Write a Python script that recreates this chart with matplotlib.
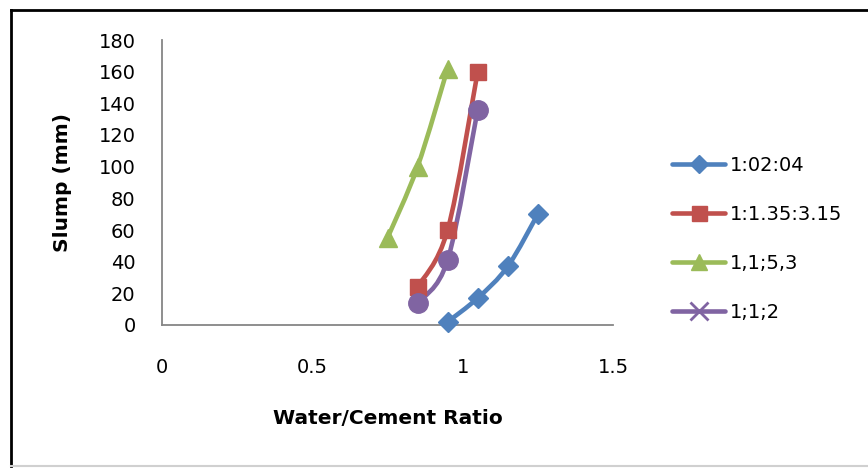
import matplotlib
matplotlib.use("Agg")
import matplotlib.pyplot as plt
from matplotlib.path import Path
from matplotlib.patches import PathPatch
from matplotlib.lines import Line2D
import numpy as np

plt.rcParams['font.family'] = ['DejaVu Sans']

# Data
series_names = ["1:02:04", "1:1.35:3.15", "1,1;5,3", "1;1;2"]
x_blue = [0.95, 1.05, 1.15, 1.25]
y_blue = [2, 17, 37, 70]
x_red = [0.85, 0.95, 1.05]
y_red = [24, 60, 160]
x_green = [0.75, 0.85, 0.95]
y_green = [55, 100, 162]
x_purple = [0.85, 0.95, 1.05]
y_purple = [14, 41, 136]

colors = ["#4F81BD", "#C0504D", "#9BBB59", "#8064A2"]
markers = ["D", "s", "^", "o"]
legend_markers = ["D", "s", "^", "x"]
msizes = [10, 12, 13, 14]

W, H = 868, 468
fig = plt.figure(figsize=(W / 100, H / 100), dpi=100)
ax = fig.add_axes([162 / W, 1 - 325 / H, (613 - 162) / W, (325 - 40) / H])


def smooth_path(xs, ys):
    pts = np.column_stack([xs, ys]).astype(float)
    n = len(pts)
    verts = [pts[0]]
    codes = [Path.MOVETO]
    for i in range(n - 1):
        p0 = pts[i - 1] if i > 0 else pts[i]
        p1 = pts[i]
        p2 = pts[i + 1]
        p3 = pts[i + 2] if i + 2 < n else pts[i + 1]
        c1 = p1 + (p2 - p0) / 6.0
        c2 = p2 - (p3 - p1) / 6.0
        verts += [c1, c2, p2]
        codes += [Path.CURVE4] * 3
    return Path(verts, codes)


data = [(x_blue, y_blue), (x_red, y_red), (x_green, y_green), (x_purple, y_purple)]
for (xs, ys), c, m, ms in zip(data, colors, markers, msizes):
    patch = PathPatch(smooth_path(xs, ys), fill=False, edgecolor=c, lw=3.3,
                      capstyle='round', joinstyle='round', zorder=2)
    ax.add_patch(patch)
    ax.plot(xs, ys, linestyle='none', marker=m, markersize=ms, color=c,
            markeredgecolor=c, zorder=3, clip_on=False)

ax.set_xlim(0, 1.5)
ax.set_ylim(0, 180)
ax.set_xticks([0, 0.5, 1, 1.5])
ax.set_xticklabels(["0", "0.5", "1", "1.5"])
ax.set_yticks(np.arange(0, 181, 20))
for s in ["top", "right"]:
    ax.spines[s].set_visible(False)
for s in ["left", "bottom"]:
    ax.spines[s].set_color("#868686")
    ax.spines[s].set_linewidth(1.3)
ax.tick_params(axis='both', length=0, labelsize=14, colors='black')
ax.tick_params(axis='y', pad=19)
ax.tick_params(axis='x', pad=24)

ax.set_xlabel("Water/Cement Ratio", fontsize=14.5, fontweight='bold')
ax.xaxis.set_label_coords(0.5, (325 - 419) / 285, transform=ax.transAxes)
ax.xaxis.label.set_va('center')
ax.set_ylabel("Slump (mm)", fontsize=14.5, fontweight='bold')
ax.yaxis.set_label_coords((62 - 162) / 451, 0.5, transform=ax.transAxes)
ax.yaxis.label.set_va('center')

handles = [Line2D([0], [0], color=c, lw=3.3, marker=m, markersize=ms * 0.9,
                  markeredgecolor=c, markeredgewidth=2 if m == 'x' else 1,
                  solid_capstyle='round')
           for c, m, ms in zip(colors, legend_markers, msizes)]
fig.legend(handles, series_names, loc='center left',
           bbox_to_anchor=(664 / W, 1 - 239 / H), frameon=False,
           fontsize=14, handlelength=2.75, handletextpad=0.25,
           labelspacing=1.55, borderaxespad=0)

# Figure border
fig.add_artist(Line2D([11 / W, 1], [1 - 10 / H, 1 - 10 / H], color='black', lw=2,
                      transform=fig.transFigure))
fig.add_artist(Line2D([11 / W, 11 / W], [1 - 10 / H, 1 - 466 / H], color='black', lw=2,
                      transform=fig.transFigure))
fig.add_artist(Line2D([11 / W, 1], [1 - 466 / H, 1 - 466 / H], color='#d0d0d0', lw=1.5,
                      transform=fig.transFigure))

fig.savefig("out.png", dpi=100)
